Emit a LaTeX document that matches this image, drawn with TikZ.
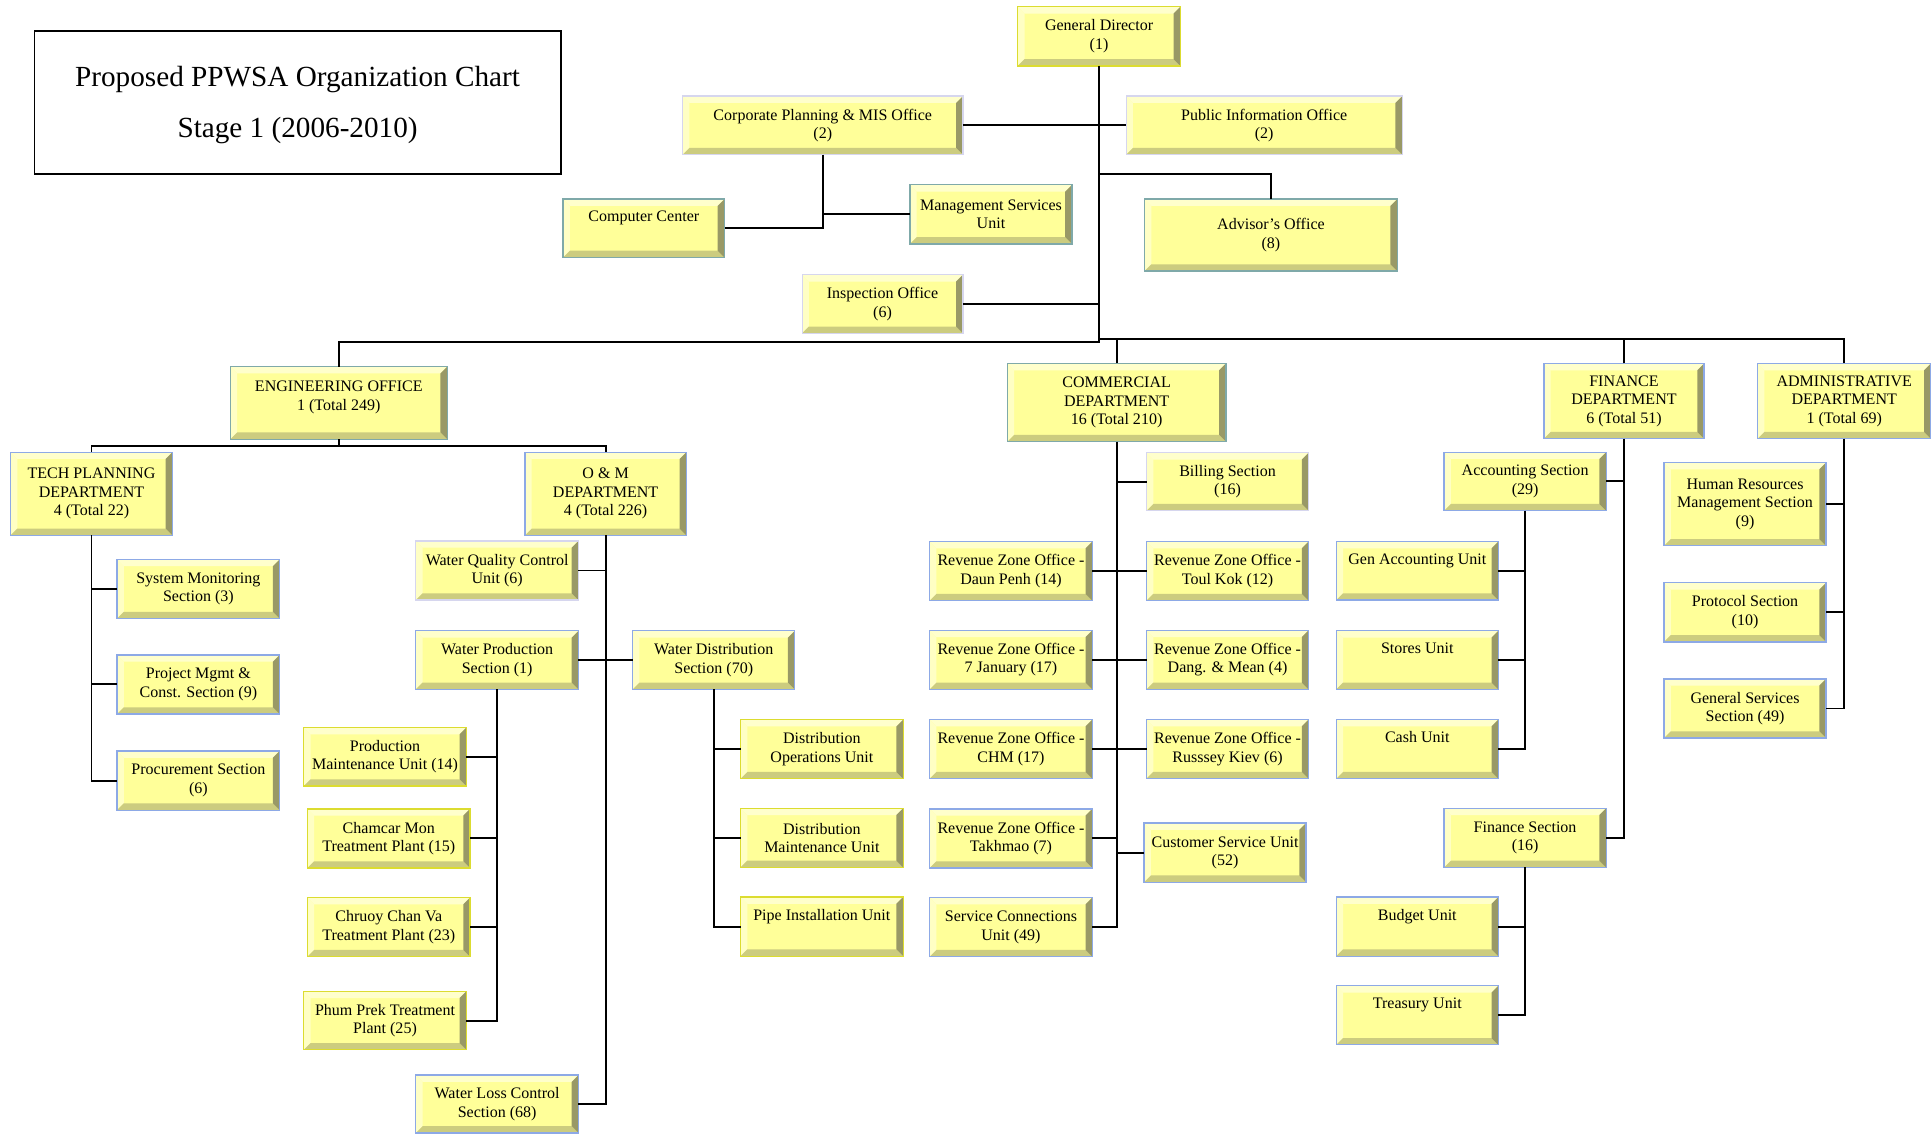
\documentclass[tikz,border=0pt]{standalone}
\usepackage{fontspec}
\setmainfont{Liberation Serif}
\definecolor{boxfill}{HTML}{FFFF99}
\definecolor{bvtop}{HTML}{FFFFCC}
\definecolor{bvleft}{HTML}{FFFFC4}
\definecolor{bvbot}{HTML}{CCCC7F}
\definecolor{bvright}{HTML}{999966}
\definecolor{bdblue}{HTML}{8DA9E6}
\definecolor{bdyel}{HTML}{DCDC30}
\definecolor{bdteal}{HTML}{7FA9A9}
\definecolor{bdlav}{HTML}{D6D6EE}
\newcommand\bvw{5.5pt}
\tikzset{
  bevelbox/.style={draw=#1, line width=1pt, fill=boxfill, inner sep=0pt, outer sep=0pt, align=center,
    font=\fontsize{13}{15}\selectfont,
    path picture={
      \fill[bvtop] (path picture bounding box.north west) -- (path picture bounding box.north east)
        -- ([xshift=-\bvw,yshift=-\bvw]path picture bounding box.north east)
        -- ([xshift=\bvw,yshift=-\bvw]path picture bounding box.north west) -- cycle;
      \fill[bvleft] (path picture bounding box.north west) -- (path picture bounding box.south west)
        -- ([xshift=\bvw,yshift=\bvw]path picture bounding box.south west)
        -- ([xshift=\bvw,yshift=-\bvw]path picture bounding box.north west) -- cycle;
      \fill[bvbot] (path picture bounding box.south west) -- (path picture bounding box.south east)
        -- ([xshift=-\bvw,yshift=\bvw]path picture bounding box.south east)
        -- ([xshift=\bvw,yshift=\bvw]path picture bounding box.south west) -- cycle;
      \fill[bvright] (path picture bounding box.north east) -- (path picture bounding box.south east)
        -- ([xshift=-\bvw,yshift=\bvw]path picture bounding box.south east)
        -- ([xshift=-\bvw,yshift=-\bvw]path picture bounding box.north east) -- cycle;
    }},
  conn/.style={line width=1.6pt, black},
}
\newcommand\orgbox[7]{\node[bevelbox=#6, minimum width={(#4-#2)*1pt}, minimum height={(#5-#3)*1pt}] (#1) at ({(#2+#4)/2},{(#3+#5)/2}) {#7};}
\begin{document}
\begin{tikzpicture}[x=1pt,y=-1pt]
\useasboundingbox[fill=white] (0,0) rectangle (1568,920.35);
% title
\node[draw, line width=1.6pt, minimum width=427pt, minimum height=116pt, inner sep=0pt] (title) at (241.5,83) {};
\node[inner sep=0pt, align=center, font=\fontsize{23.7}{41.5}\selectfont] (titletext) at (241.5,85) {Proposed PPWSA Organization Chart\\Stage 1 (2006-2010)};
% top level
\orgbox{gd}{826}{5.5}{958}{53.5}{bdyel}{General Director\\(1)}
\orgbox{cp}{554}{78}{781.5}{125.5}{bdlav}{Corporate Planning \& MIS Office\\(2)}
\orgbox{pi}{914}{78}{1138}{125.5}{bdlav}{Public Information Office\\(2)}
\orgbox{cc}{457}{161.5}{588}{209}{bdteal}{Computer Center\\\strut}
\orgbox{ms}{738.5}{150}{870}{198}{bdteal}{Management Services\\Unit}
\orgbox{adv}{929}{161.5}{1134}{220}{bdteal}{Advisor’s Office\\(8)}
\orgbox{ins}{651}{223}{781.5}{270.5}{bdlav}{Inspection Office\\(6)}
% departments
\orgbox{eng}{187}{297.5}{363}{356.5}{bdteal}{ENGINEERING OFFICE\\1 (Total 249)\\[-8pt]\strut}
\orgbox{com}{817.5}{295}{995}{358.5}{bdteal}{COMMERCIAL\\DEPARTMENT\\16 (Total 210)}
\orgbox{fin}{1253}{295}{1383}{356}{bdblue}{FINANCE\\DEPARTMENT\\6 (Total 51)}
\orgbox{adm}{1426.5}{295}{1567}{356}{bdblue}{ADMINISTRATIVE\\DEPARTMENT\\1 (Total 69)}
\orgbox{tp}{8.5}{367}{140}{434.5}{bdblue}{TECH PLANNING\\DEPARTMENT\\4 (Total 22)}
\orgbox{om}{426}{367}{557}{434.5}{bdblue}{O \& M\\DEPARTMENT\\4 (Total 226)}
% tech planning
\orgbox{sm}{95}{454}{227}{502}{bdblue}{System Monitoring\\Section (3)}
\orgbox{pmc}{95}{531.5}{227}{579.5}{bdblue}{Project Mgmt \&\\Const. Section (9)}
\orgbox{proc}{95}{609.5}{227}{657.5}{bdblue}{Procurement Section\\(6)}
% O&M
\orgbox{wq}{337.5}{439}{469.5}{487}{bdlav}{Water Quality Control\\Unit (6)}
\orgbox{wp}{337.5}{512}{469.5}{559.5}{bdblue}{Water Production\\Section (1)}
\orgbox{wd}{513.5}{512}{645}{559.5}{bdblue}{Water Distribution\\Section (70)}
\orgbox{wl}{337.5}{872.5}{469.5}{919.5}{bdblue}{Water Loss Control\\Section (68)}
\orgbox{pmu}{246.5}{590.5}{378.5}{638}{bdyel}{Production\\Maintenance Unit (14)}
\orgbox{cm}{249.5}{656.5}{381.5}{704.5}{bdyel}{Chamcar Mon\\Treatment Plant (15)}
\orgbox{ccv}{249.5}{728.5}{381.5}{776.5}{bdyel}{Chruoy Chan Va\\Treatment Plant (23)}
\orgbox{pp}{246.5}{804.5}{378.5}{852}{bdyel}{Phum Prek Treatment\\Plant (25)}
\orgbox{dop}{601}{584}{733}{632}{bdyel}{Distribution\\Operations Unit}
\orgbox{dmu}{601}{656}{733}{704}{bdyel}{Distribution\\Maintenance Unit}
\orgbox{piu}{601}{728}{733}{776}{bdyel}{Pipe Installation Unit\\\strut}
% commercial
\orgbox{bill}{930.5}{367.5}{1062}{414.5}{bdlav}{Billing Section\\(16)}
\orgbox{rza}{754.5}{439.5}{886.5}{487.5}{bdblue}{Revenue Zone Office -\\Daun Penh (14)}
\orgbox{rzb}{930.5}{439.5}{1062}{487.5}{bdblue}{Revenue Zone Office -\\Toul Kok (12)}
\orgbox{rzc}{754.5}{511.5}{886.5}{559.5}{bdblue}{Revenue Zone Office -\\7 January (17)}
\orgbox{rzd}{930.5}{511.5}{1062}{559.5}{bdblue}{Revenue Zone Office -\\Dang. \& Mean (4)}
\orgbox{rze}{754.5}{584}{886.5}{632}{bdblue}{Revenue Zone Office -\\CHM (17)}
\orgbox{rzf}{930.5}{584}{1062}{632}{bdblue}{Revenue Zone Office -\\Russsey Kiev (6)}
\orgbox{rzg}{754.5}{656.5}{886.5}{704.5}{bdblue}{Revenue Zone Office -\\Takhmao (7)}
\orgbox{csu}{928.5}{668}{1060}{716}{bdblue}{Customer Service Unit\\(52)}
\orgbox{scu}{754.5}{728.5}{886.5}{776.5}{bdblue}{Service Connections\\Unit (49)}
% finance
\orgbox{acc}{1172}{367}{1303.5}{414.5}{bdblue}{Accounting Section\\(29)}
\orgbox{gau}{1084.5}{439.5}{1216}{487}{bdblue}{Gen Accounting Unit\\\strut}
\orgbox{stu}{1084.5}{512}{1216}{559.5}{bdblue}{Stores Unit\\\strut}
\orgbox{cau}{1084.5}{584}{1216}{632}{bdblue}{Cash Unit\\\strut}
\orgbox{fs}{1172}{656}{1303.5}{704}{bdblue}{Finance Section\\(16)}
\orgbox{bu}{1084.5}{728}{1216}{776}{bdblue}{Budget Unit\\\strut}
\orgbox{tu}{1084.5}{800}{1216}{848}{bdblue}{Treasury Unit\\\strut}
% administrative
\orgbox{hr}{1350.5}{375.5}{1482}{443}{bdblue}{Human Resources\\Management Section\\(9)}
\orgbox{pro}{1350.5}{473}{1482}{521}{bdblue}{Protocol Section\\(10)}
\orgbox{gs}{1350.5}{551}{1482}{599}{bdblue}{General Services\\Section (49)}
% junction coordinates
\coordinate (busL) at (275,277.8);
\coordinate (busR) at (1497,275.4);
\coordinate (advj) at (892,141.5);
\coordinate (engbus) at (275,361.7);
% connectors: top
\draw[conn] (gd.south) |- (busL) -- (eng.north);
\draw[conn] (gd.south |- busR) -| (adm.north);
\draw[conn] (com.north) -- (com.north |- busR);
\draw[conn] (fin.north) -- (fin.north |- busR);
\draw[conn] (cp.east) -- (pi.west);
\draw[conn] (advj) -| (adv.north);
\draw[conn] (ins.east) -- (ins.east -| gd.south);
\draw[conn] (cp.south) |- (cc.east);
\draw[conn] (cp.south |- ms.west) -- (ms.west);
% engineering
\draw[conn] (eng.south) -- (engbus);
\draw[conn] (tp.north) |- (engbus) -| (om.north);
\draw[conn] (tp.south) |- (proc.west);
\draw[conn] (tp.south |- sm.west) -- (sm.west);
\draw[conn] (tp.south |- pmc.west) -- (pmc.west);
\draw[conn] (om.south) |- (wl.east);
\draw[conn] (om.south |- wq.east) -- (wq.east);
\draw[conn] (wp.east) -- (wd.west);
\draw[conn] (wp.south) |- (pp.east);
\draw[conn] (wp.south |- pmu.east) -- (pmu.east);
\draw[conn] (wp.south |- cm.east) -- (cm.east);
\draw[conn] (wp.south |- ccv.east) -- (ccv.east);
\draw[conn] (wd.south) |- (piu.west);
\draw[conn] (wd.south |- dop.west) -- (dop.west);
\draw[conn] (wd.south |- dmu.west) -- (dmu.west);
% commercial
\draw[conn] (com.south) |- (scu.east);
\draw[conn] (com.south |- bill.west) -- (bill.west);
\draw[conn] (rza.east) -- (rzb.west);
\draw[conn] (rzc.east) -- (rzd.west);
\draw[conn] (rze.east) -- (rzf.west);
\draw[conn] (rzg.east) -- (rzg.east -| com.south);
\draw[conn] (com.south |- csu.west) -- (csu.west);
% finance
\draw[conn] (fin.south) |- (fs.east);
\draw[conn] (fin.south |- acc.east) -- (acc.east);
\draw[conn] (acc.south) |- (cau.east);
\draw[conn] (acc.south |- gau.east) -- (gau.east);
\draw[conn] (acc.south |- stu.east) -- (stu.east);
\draw[conn] (fs.south) |- (tu.east);
\draw[conn] (fs.south |- bu.east) -- (bu.east);
% administrative
\draw[conn] (adm.south) |- (gs.east);
\draw[conn] (adm.south |- hr.east) -- (hr.east);
\draw[conn] (adm.south |- pro.east) -- (pro.east);
\end{tikzpicture}
\end{document}
